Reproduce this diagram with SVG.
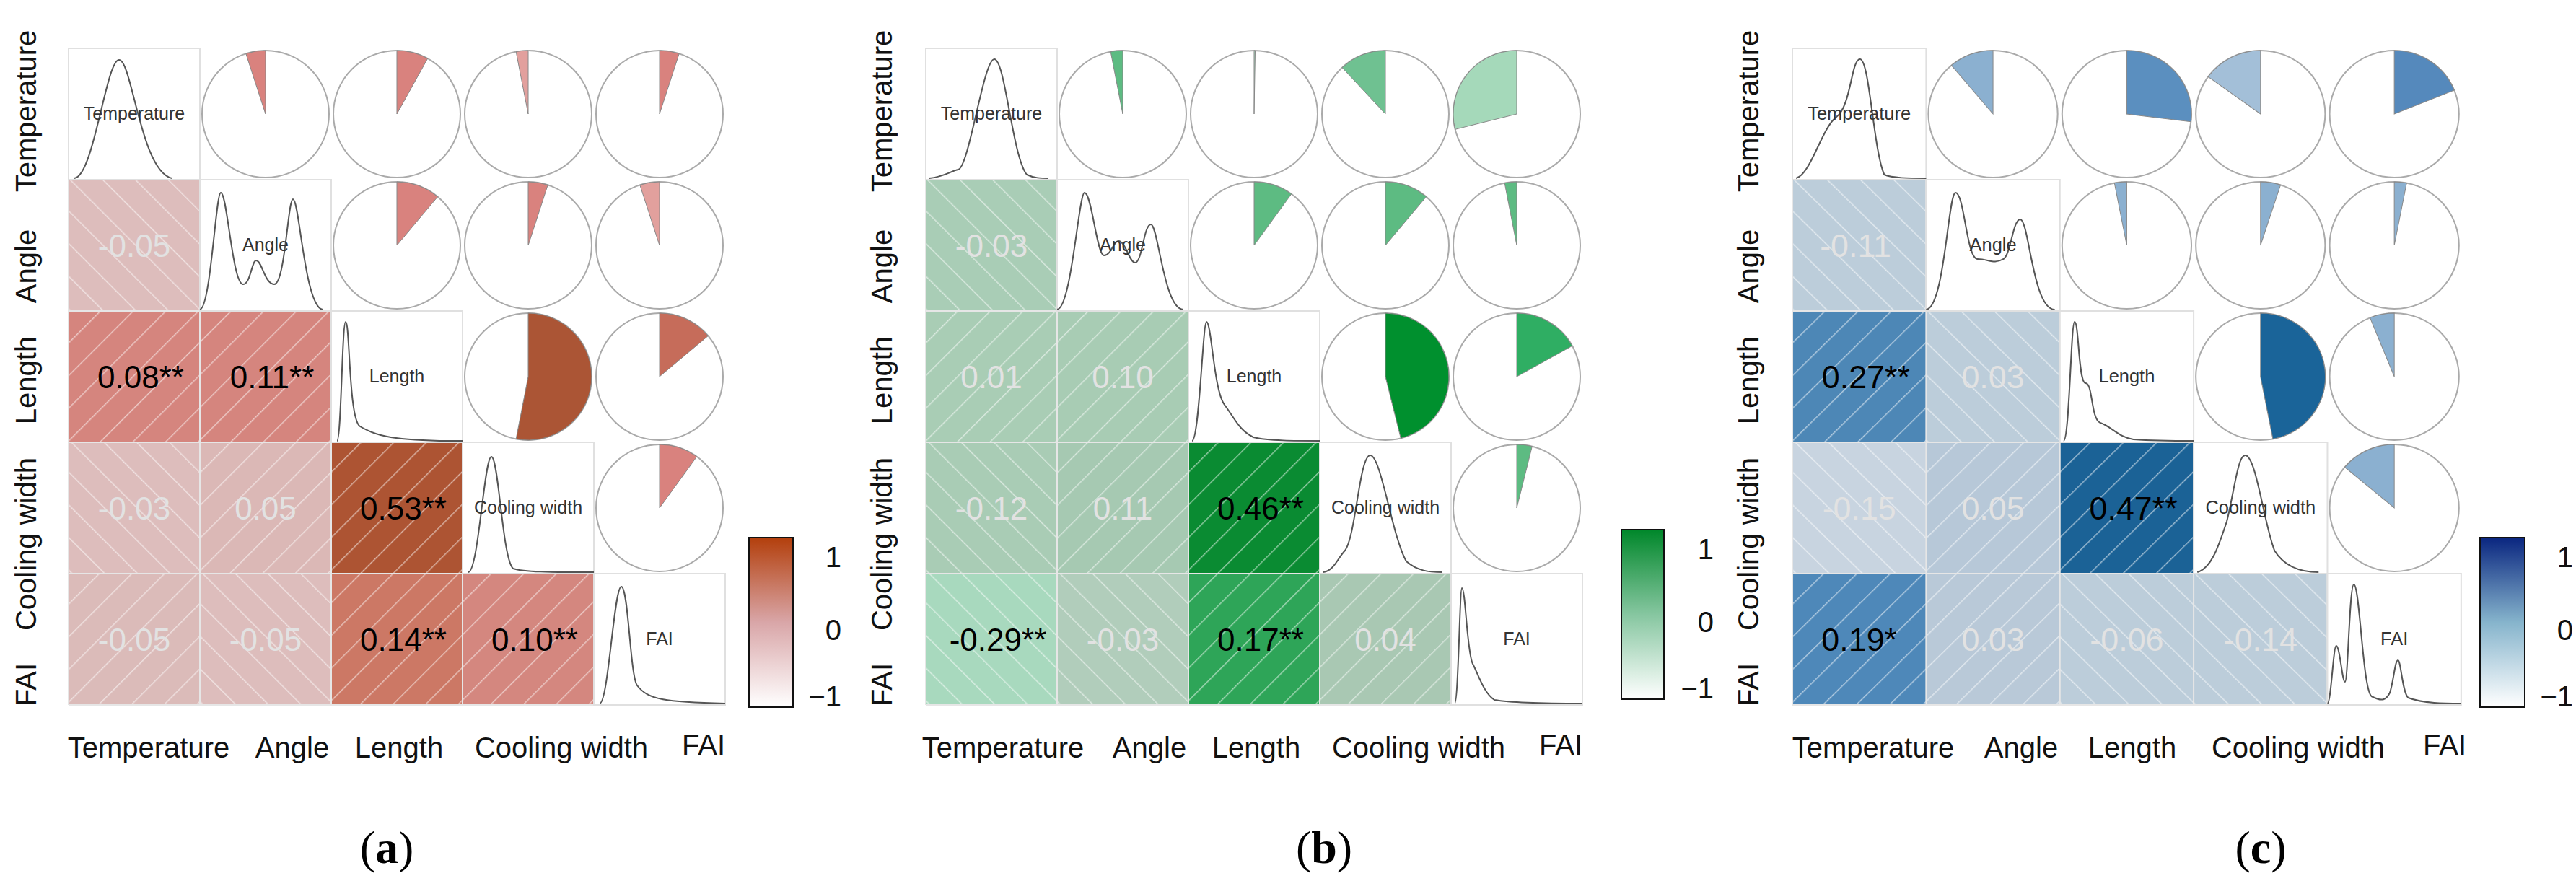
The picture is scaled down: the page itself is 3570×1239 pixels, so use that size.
<svg xmlns="http://www.w3.org/2000/svg" width="3570" height="1239" viewBox="0 0 3570 1239">
<style>
.lab{font-family:"Liberation Sans",Arial,sans-serif;font-size:40px;fill:#111}
.dl{font-family:"Liberation Sans",Arial,sans-serif;font-size:25px;fill:#333;text-anchor:middle}
.num{font-family:"Liberation Sans",Arial,sans-serif;font-size:44px;text-anchor:middle}
.sig{fill:#000}.ns{fill:#e2e2e2}
.cap{font-family:"Liberation Serif","Times New Roman",serif;font-size:64px;fill:#000;text-anchor:middle}
.diag{fill:#fff;stroke:#e0e0e0;stroke-width:2}
.cur{fill:none;stroke:#555;stroke-width:2}
.pie{fill:#fff;stroke:#aaa;stroke-width:2}
.wed{stroke:#888;stroke-width:1}
.grid{fill:none;stroke:#e6e6e6;stroke-width:2}
.leg{stroke:#111;stroke-width:2}
</style>
<defs>
<pattern id="pos" width="32" height="32" patternUnits="userSpaceOnUse" patternTransform="rotate(45)"><line x1="0" y1="0" x2="0" y2="32" stroke="#fff" stroke-opacity="0.55" stroke-width="3"/></pattern>
<pattern id="neg" width="32" height="32" patternUnits="userSpaceOnUse" patternTransform="rotate(-45)"><line x1="0" y1="0" x2="0" y2="32" stroke="#fff" stroke-opacity="0.55" stroke-width="3"/></pattern>
<linearGradient id="ga" x1="0" y1="1" x2="0" y2="0"><stop offset="0" stop-color="#fff"/><stop offset="0.5" stop-color="#d9a6a8"/><stop offset="1" stop-color="#b33f0c"/></linearGradient>
<linearGradient id="gb" x1="0" y1="1" x2="0" y2="0"><stop offset="0" stop-color="#fff"/><stop offset="0.5" stop-color="#86c6a0"/><stop offset="1" stop-color="#00872a"/></linearGradient>
<linearGradient id="gc" x1="0" y1="1" x2="0" y2="0"><stop offset="0" stop-color="#fff"/><stop offset="0.5" stop-color="#86b4cc"/><stop offset="1" stop-color="#0a2680"/></linearGradient>
</defs>

<!-- Panel a -->
<g id="panel-a">
<g transform="translate(95,67)">
<g id="a-lower">
<rect x="0" y="182" width="182" height="182" fill="#ddbdbc"/><rect x="0" y="182" width="182" height="182" fill="url(#neg)"/>
<rect x="0" y="364" width="182" height="182" fill="#d5857e"/><rect x="0" y="364" width="182" height="182" fill="url(#pos)"/>
<rect x="182" y="364" width="182" height="182" fill="#d5857e"/><rect x="182" y="364" width="182" height="182" fill="url(#pos)"/>
<rect x="0" y="546" width="182" height="182" fill="#ddbdbc"/><rect x="0" y="546" width="182" height="182" fill="url(#neg)"/>
<rect x="182" y="546" width="182" height="182" fill="#dbb8b6"/><rect x="182" y="546" width="182" height="182" fill="url(#pos)"/>
<rect x="364" y="546" width="182" height="182" fill="#ad5433"/><rect x="364" y="546" width="182" height="182" fill="url(#pos)"/>
<rect x="0" y="728" width="182" height="182" fill="#dbbbb9"/><rect x="0" y="728" width="182" height="182" fill="url(#pos)"/>
<rect x="182" y="728" width="182" height="182" fill="#ddbdbc"/><rect x="182" y="728" width="182" height="182" fill="url(#neg)"/>
<rect x="364" y="728" width="182" height="182" fill="#cc7865"/><rect x="364" y="728" width="182" height="182" fill="url(#pos)"/>
<rect x="546" y="728" width="182" height="182" fill="#d4877f"/><rect x="546" y="728" width="182" height="182" fill="url(#pos)"/>
<path class="grid" d="M0,182H182V910M0,364H364V910M0,546H546V910M0,728H728V910M0,910H728M0,182V910"/>
<text class="num ns" x="91" y="289">-0.05</text>
<text class="num sig" x="100" y="471">0.08**</text>
<text class="num sig" x="282" y="471">0.11**</text>
<text class="num ns" x="91" y="653">-0.03</text>
<text class="num ns" x="273" y="653">0.05</text>
<text class="num sig" x="464" y="653">0.53**</text>
<text class="num ns" x="91" y="835">-0.05</text>
<text class="num ns" x="273" y="835">-0.05</text>
<text class="num sig" x="464" y="835">0.14**</text>
<text class="num sig" x="646" y="835">0.10**</text>
</g>
<g id="a-diag">
<g transform="translate(0,0)"><rect class="diag" width="182" height="182"/><path class="cur" d="M8,180 C35,178 52,16 70,16 C88,16 100,170 143,180"/><text class="dl" x="91" y="99">Temperature</text></g>
<g transform="translate(182,182)"><rect class="diag" width="182" height="182"/><path class="cur" d="M0,180 C15,178 22,18 29,18 C38,18 45,145 60,145 C70,145 72,112 78,112 C86,112 90,145 103,145 C118,145 122,27 129,27 C138,27 145,175 170,180"/><text class="dl" x="91" y="99">Angle</text></g>
<g transform="translate(364,364)"><rect class="diag" width="182" height="182"/><path class="cur" d="M8,180 C14,180 15,15 20,15 C26,15 24,150 40,160 C60,172 80,178 150,180 L182,180"/><text class="dl" x="91" y="99">Length</text></g>
<g transform="translate(546,546)"><rect class="diag" width="182" height="182"/><path class="cur" d="M8,180 C22,180 30,20 40,20 C50,20 55,160 70,175 C85,180 120,180 182,180"/><text class="dl" x="91" y="99">Cooling width</text></g>
<g transform="translate(728,728)"><rect class="diag" width="182" height="182"/><path class="cur" d="M8,180 C20,180 28,18 38,18 C48,18 50,140 60,155 C75,175 100,178 182,180"/><text class="dl" x="91" y="99">FAI</text></g>
</g>
<g id="a-upper">
<g transform="translate(273,91)"><circle class="pie" r="88"/><path class="wed" fill="#d9827e" d="M0,0L0,-88A88,88 0 0 0 -27.2,-83.7Z"/></g>
<g transform="translate(455,91)"><circle class="pie" r="88"/><path class="wed" fill="#d9827e" d="M0,0L0,-88A88,88 0 0 1 42.7,-77Z"/></g>
<g transform="translate(637,91)"><circle class="pie" r="88"/><path class="wed" fill="#e2a09d" d="M0,0L0,-88A88,88 0 0 0 -16.8,-86.4Z"/></g>
<g transform="translate(819,91)"><circle class="pie" r="88"/><path class="wed" fill="#d9827e" d="M0,0L0,-88A88,88 0 0 1 27.2,-83.7Z"/></g>
<g transform="translate(455,273)"><circle class="pie" r="88"/><path class="wed" fill="#d9827e" d="M0,0L0,-88A88,88 0 0 1 56.6,-67.4Z"/></g>
<g transform="translate(637,273)"><circle class="pie" r="88"/><path class="wed" fill="#d9827e" d="M0,0L0,-88A88,88 0 0 1 27.2,-83.7Z"/></g>
<g transform="translate(819,273)"><circle class="pie" r="88"/><path class="wed" fill="#e2a09d" d="M0,0L0,-88A88,88 0 0 0 -27.2,-83.7Z"/></g>
<g transform="translate(637,455)"><circle class="pie" r="88"/><path class="wed" fill="#ab5535" d="M0,0L0,-88A88,88 0 1 1 -16.8,86.4Z"/></g>
<g transform="translate(819,455)"><circle class="pie" r="88"/><path class="wed" fill="#c66c5a" d="M0,0L0,-88A88,88 0 0 1 67.4,-56.6Z"/></g>
<g transform="translate(819,637)"><circle class="pie" r="88"/><path class="wed" fill="#d9827e" d="M0,0L0,-88A88,88 0 0 1 51.7,-71.2Z"/></g>
</g>
</g>
<g id="a-axes">
<text class="lab" text-anchor="middle" x="206" y="1050">Temperature</text>
<text class="lab" text-anchor="middle" x="405" y="1050">Angle</text>
<text class="lab" text-anchor="middle" x="553" y="1050">Length</text>
<text class="lab" text-anchor="middle" x="778" y="1050">Cooling width</text>
<text class="lab" text-anchor="middle" x="975" y="1046">FAI</text>
<text class="lab" text-anchor="middle" transform="translate(50,154) rotate(-90)">Temperature</text>
<text class="lab" text-anchor="middle" transform="translate(50,369) rotate(-90)">Angle</text>
<text class="lab" text-anchor="middle" transform="translate(50,527) rotate(-90)">Length</text>
<text class="lab" text-anchor="middle" transform="translate(50,754) rotate(-90)">Cooling width</text>
<text class="lab" text-anchor="middle" transform="translate(50,949) rotate(-90)">FAI</text>
</g>
<g id="a-legend">
<rect class="leg" x="1038" y="745" width="61" height="235" fill="url(#ga)"/>
<text class="lab" text-anchor="end" x="1166" y="786">1</text>
<text class="lab" text-anchor="end" x="1166" y="887">0</text>
<text class="lab" text-anchor="end" x="1166" y="979">−1</text>
</g>
<text class="cap" x="536" y="1196">(<tspan font-weight="bold">a</tspan>)</text>
</g>

<!-- Panel b -->
<g id="panel-b">
<g transform="translate(1283,67)">
<g id="b-lower">
<rect x="0" y="182" width="182" height="182" fill="#a9cdb6"/><rect x="0" y="182" width="182" height="182" fill="url(#neg)"/>
<rect x="0" y="364" width="182" height="182" fill="#a9cdb5"/><rect x="0" y="364" width="182" height="182" fill="url(#pos)"/>
<rect x="182" y="364" width="182" height="182" fill="#a8ccb4"/><rect x="182" y="364" width="182" height="182" fill="url(#pos)"/>
<rect x="0" y="546" width="182" height="182" fill="#a9ccb5"/><rect x="0" y="546" width="182" height="182" fill="url(#neg)"/>
<rect x="182" y="546" width="182" height="182" fill="#a6c9b2"/><rect x="182" y="546" width="182" height="182" fill="url(#pos)"/>
<rect x="364" y="546" width="182" height="182" fill="#0a8b32"/><rect x="364" y="546" width="182" height="182" fill="url(#pos)"/>
<rect x="0" y="728" width="182" height="182" fill="#a8d9be"/><rect x="0" y="728" width="182" height="182" fill="url(#neg)"/>
<rect x="182" y="728" width="182" height="182" fill="#b1cdbb"/><rect x="182" y="728" width="182" height="182" fill="url(#neg)"/>
<rect x="364" y="728" width="182" height="182" fill="#2ea558"/><rect x="364" y="728" width="182" height="182" fill="url(#pos)"/>
<rect x="546" y="728" width="182" height="182" fill="#a9c8b3"/><rect x="546" y="728" width="182" height="182" fill="url(#pos)"/>
<path class="grid" d="M0,182H182V910M0,364H364V910M0,546H546V910M0,728H728V910M0,910H728M0,182V910"/>
<text class="num ns" x="91" y="289">-0.03</text>
<text class="num ns" x="91" y="471">0.01</text>
<text class="num ns" x="273" y="471">0.10</text>
<text class="num ns" x="91" y="653">-0.12</text>
<text class="num ns" x="273" y="653">0.11</text>
<text class="num sig" x="464" y="653">0.46**</text>
<text class="num sig" x="100" y="835">-0.29**</text>
<text class="num ns" x="273" y="835">-0.03</text>
<text class="num sig" x="464" y="835">0.17**</text>
<text class="num ns" x="637" y="835">0.04</text>
</g>
<g id="b-diag">
<g transform="translate(0,0)"><rect class="diag" width="182" height="182"/><path class="cur" d="M5,180 C25,178 35,170 45,168 C60,165 80,15 95,15 C110,15 120,150 140,175 C150,180 160,180 170,180"/><text class="dl" x="91" y="99">Temperature</text></g>
<g transform="translate(182,182)"><rect class="diag" width="182" height="182"/><path class="cur" d="M0,180 C20,178 30,18 38,18 C48,18 55,105 65,105 C75,105 78,85 85,85 C95,85 100,115 108,115 C118,115 120,62 130,62 C140,62 148,180 175,180"/><text class="dl" x="91" y="99">Angle</text></g>
<g transform="translate(364,364)"><rect class="diag" width="182" height="182"/><path class="cur" d="M5,180 C15,180 20,15 25,15 C32,15 35,110 50,130 C65,150 70,165 90,175 C110,180 150,180 182,180"/><text class="dl" x="91" y="99">Length</text></g>
<g transform="translate(546,546)"><rect class="diag" width="182" height="182"/><path class="cur" d="M5,180 C20,178 25,160 35,150 C50,130 55,18 70,18 C85,18 100,130 120,165 C135,178 150,180 170,180"/><text class="dl" x="91" y="99">Cooling width</text></g>
<g transform="translate(728,728)"><rect class="diag" width="182" height="182"/><path class="cur" d="M5,180 C10,180 12,20 15,20 C20,20 22,110 30,125 C38,140 45,165 60,175 C90,180 150,180 182,180"/><text class="dl" x="91" y="99">FAI</text></g>
</g>
<g id="b-upper">
<g transform="translate(273,91)"><circle class="pie" r="88"/><path class="wed" fill="#5dbb82" d="M0,0L0,-88A88,88 0 0 0 -16.8,-86.4Z"/></g>
<g transform="translate(455,91)"><circle class="pie" r="88"/><path class="wed" fill="#a5d9ba" d="M0,0L0,-88A88,88 0 0 1 1.5,-88Z"/></g>
<g transform="translate(637,91)"><circle class="pie" r="88"/><path class="wed" fill="#6fc191" d="M0,0L0,-88A88,88 0 0 0 -60,-64.4Z"/></g>
<g transform="translate(819,91)"><circle class="pie" r="88"/><path class="wed" fill="#a5d9ba" d="M0,0L0,-88A88,88 0 0 0 -85.4,21.3Z"/></g>
<g transform="translate(455,273)"><circle class="pie" r="88"/><path class="wed" fill="#5dbb82" d="M0,0L0,-88A88,88 0 0 1 51.7,-71.2Z"/></g>
<g transform="translate(637,273)"><circle class="pie" r="88"/><path class="wed" fill="#5dbb82" d="M0,0L0,-88A88,88 0 0 1 56.6,-67.4Z"/></g>
<g transform="translate(819,273)"><circle class="pie" r="88"/><path class="wed" fill="#5dbb82" d="M0,0L0,-88A88,88 0 0 0 -16.8,-86.4Z"/></g>
<g transform="translate(637,455)"><circle class="pie" r="88"/><path class="wed" fill="#00902e" d="M0,0L0,-88A88,88 0 0 1 21.3,85.4Z"/></g>
<g transform="translate(819,455)"><circle class="pie" r="88"/><path class="wed" fill="#2fae63" d="M0,0L0,-88A88,88 0 0 1 77,-42.7Z"/></g>
<g transform="translate(819,637)"><circle class="pie" r="88"/><path class="wed" fill="#5dbb82" d="M0,0L0,-88A88,88 0 0 1 21.3,-85.4Z"/></g>
</g>
</g>
<g id="b-axes">
<text class="lab" text-anchor="middle" x="1390" y="1050">Temperature</text>
<text class="lab" text-anchor="middle" x="1593" y="1050">Angle</text>
<text class="lab" text-anchor="middle" x="1741" y="1050">Length</text>
<text class="lab" text-anchor="middle" x="1966" y="1050">Cooling width</text>
<text class="lab" text-anchor="middle" x="2163" y="1046">FAI</text>
<text class="lab" text-anchor="middle" transform="translate(1236,154) rotate(-90)">Temperature</text>
<text class="lab" text-anchor="middle" transform="translate(1236,369) rotate(-90)">Angle</text>
<text class="lab" text-anchor="middle" transform="translate(1236,527) rotate(-90)">Length</text>
<text class="lab" text-anchor="middle" transform="translate(1236,754) rotate(-90)">Cooling width</text>
<text class="lab" text-anchor="middle" transform="translate(1236,949) rotate(-90)">FAI</text>
</g>
<g id="b-legend">
<rect class="leg" x="2247" y="734" width="59" height="235" fill="url(#gb)"/>
<text class="lab" text-anchor="end" x="2375" y="775">1</text>
<text class="lab" text-anchor="end" x="2375" y="876">0</text>
<text class="lab" text-anchor="end" x="2375" y="968">−1</text>
</g>
<text class="cap" x="1835" y="1196">(<tspan font-weight="bold">b</tspan>)</text>
</g>

<!-- Panel c -->
<g id="panel-c">
<g transform="translate(2484,67) scale(1.0185,1)">
<g id="c-lower">
<rect x="0" y="182" width="182" height="182" fill="#bccdda"/><rect x="0" y="182" width="182" height="182" fill="url(#neg)"/>
<rect x="0" y="364" width="182" height="182" fill="#4d87b6"/><rect x="0" y="364" width="182" height="182" fill="url(#pos)"/>
<rect x="182" y="364" width="182" height="182" fill="#bccdda"/><rect x="182" y="364" width="182" height="182" fill="url(#neg)"/>
<rect x="0" y="546" width="182" height="182" fill="#c8d4e0"/><rect x="0" y="546" width="182" height="182" fill="url(#neg)"/>
<rect x="182" y="546" width="182" height="182" fill="#b7c8d8"/><rect x="182" y="546" width="182" height="182" fill="url(#pos)"/>
<rect x="364" y="546" width="182" height="182" fill="#1b6296"/><rect x="364" y="546" width="182" height="182" fill="url(#pos)"/>
<rect x="0" y="728" width="182" height="182" fill="#4e88b9"/><rect x="0" y="728" width="182" height="182" fill="url(#pos)"/>
<rect x="182" y="728" width="182" height="182" fill="#b9c9d8"/><rect x="182" y="728" width="182" height="182" fill="url(#pos)"/>
<rect x="364" y="728" width="182" height="182" fill="#bccdda"/><rect x="364" y="728" width="182" height="182" fill="url(#neg)"/>
<rect x="546" y="728" width="182" height="182" fill="#bccdda"/><rect x="546" y="728" width="182" height="182" fill="url(#neg)"/>
<path class="grid" d="M0,182H182V910M0,364H364V910M0,546H546V910M0,728H728V910M0,910H728M0,182V910"/>
<text class="num ns" x="86" y="289">-0.11</text>
<text class="num sig" x="100" y="471">0.27**</text>
<text class="num ns" x="273" y="471">0.03</text>
<text class="num ns" x="91" y="653">-0.15</text>
<text class="num ns" x="273" y="653">0.05</text>
<text class="num sig" x="464" y="653">0.47**</text>
<text class="num sig" x="91" y="835">0.19*</text>
<text class="num ns" x="273" y="835">0.03</text>
<text class="num ns" x="455" y="835">-0.06</text>
<text class="num ns" x="637" y="835">-0.14</text>
</g>
<g id="c-diag">
<g transform="translate(0,0)"><rect class="diag" width="182" height="182"/><path class="cur" d="M5,180 C25,175 40,110 60,95 C80,80 80,15 92,15 C105,15 110,140 125,175 C135,180 160,180 182,180"/><text class="dl" x="91" y="99">Temperature</text></g>
<g transform="translate(182,182)"><rect class="diag" width="182" height="182"/><path class="cur" d="M0,180 C25,178 30,18 40,18 C52,18 55,110 70,110 C85,110 92,118 105,110 C115,105 118,55 128,55 C140,55 145,180 175,180"/><text class="dl" x="91" y="99">Angle</text></g>
<g transform="translate(364,364)"><rect class="diag" width="182" height="182"/><path class="cur" d="M5,180 C13,180 15,15 20,15 C26,15 25,100 35,100 C45,100 42,150 55,155 C70,160 80,175 100,178 C130,180 160,180 182,180"/><text class="dl" x="91" y="99">Length</text></g>
<g transform="translate(546,546)"><rect class="diag" width="182" height="182"/><path class="cur" d="M5,180 C25,175 35,140 45,110 C55,70 60,18 70,18 C85,18 95,110 110,150 C125,175 150,180 170,180"/><text class="dl" x="91" y="99">Cooling width</text></g>
<g transform="translate(728,728)"><rect class="diag" width="182" height="182"/><path class="cur" d="M0,180 C5,180 8,100 12,100 C17,100 20,150 24,150 C28,150 30,15 36,15 C44,15 48,160 60,170 C75,178 80,175 85,165 C90,150 92,120 96,120 C100,120 102,165 110,172 C130,180 160,180 182,180"/><text class="dl" x="91" y="99">FAI</text></g>
</g>
<g id="c-upper">
<g transform="translate(273,91)"><circle class="pie" r="88"/><path class="wed" fill="#8bb0d0" d="M0,0L0,-88A88,88 0 0 0 -56.6,-67.4Z"/></g>
<g transform="translate(455,91)"><circle class="pie" r="88"/><path class="wed" fill="#5b8fbf" d="M0,0L0,-88A88,88 0 0 1 87.4,10.7Z"/></g>
<g transform="translate(637,91)"><circle class="pie" r="88"/><path class="wed" fill="#a3bfd8" d="M0,0L0,-88A88,88 0 0 0 -71.2,-51.7Z"/></g>
<g transform="translate(819,91)"><circle class="pie" r="88"/><path class="wed" fill="#5589bc" d="M0,0L0,-88A88,88 0 0 1 81.6,-33Z"/></g>
<g transform="translate(455,273)"><circle class="pie" r="88"/><path class="wed" fill="#8bb0d0" d="M0,0L0,-88A88,88 0 0 0 -16.8,-86.4Z"/></g>
<g transform="translate(637,273)"><circle class="pie" r="88"/><path class="wed" fill="#8bb0d0" d="M0,0L0,-88A88,88 0 0 1 27.2,-83.7Z"/></g>
<g transform="translate(819,273)"><circle class="pie" r="88"/><path class="wed" fill="#8bb0d0" d="M0,0L0,-88A88,88 0 0 1 16.8,-86.4Z"/></g>
<g transform="translate(637,455)"><circle class="pie" r="88"/><path class="wed" fill="#1a6499" d="M0,0L0,-88A88,88 0 0 1 16.8,86.4Z"/></g>
<g transform="translate(819,455)"><circle class="pie" r="88"/><path class="wed" fill="#8bb0d0" d="M0,0L0,-88A88,88 0 0 0 -33,-81.6Z"/></g>
<g transform="translate(819,637)"><circle class="pie" r="88"/><path class="wed" fill="#8bb0d0" d="M0,0L0,-88A88,88 0 0 0 -67.4,-56.6Z"/></g>
</g>
</g>
<g id="c-axes">
<text class="lab" text-anchor="middle" x="2596" y="1050">Temperature</text>
<text class="lab" text-anchor="middle" x="2801" y="1050">Angle</text>
<text class="lab" text-anchor="middle" x="2955" y="1050">Length</text>
<text class="lab" text-anchor="middle" x="3185" y="1050">Cooling width</text>
<text class="lab" text-anchor="middle" x="3388" y="1046">FAI</text>
<text class="lab" text-anchor="middle" transform="translate(2437,154) rotate(-90)">Temperature</text>
<text class="lab" text-anchor="middle" transform="translate(2437,369) rotate(-90)">Angle</text>
<text class="lab" text-anchor="middle" transform="translate(2437,527) rotate(-90)">Length</text>
<text class="lab" text-anchor="middle" transform="translate(2437,754) rotate(-90)">Cooling width</text>
<text class="lab" text-anchor="middle" transform="translate(2437,949) rotate(-90)">FAI</text>
</g>
<g id="c-legend">
<rect class="leg" x="3437" y="745" width="62" height="235" fill="url(#gc)"/>
<text class="lab" text-anchor="end" x="3566" y="786">1</text>
<text class="lab" text-anchor="end" x="3566" y="887">0</text>
<text class="lab" text-anchor="end" x="3566" y="979">−1</text>
</g>
<text class="cap" x="3133" y="1196">(<tspan font-weight="bold">c</tspan>)</text>
</g>
</svg>
